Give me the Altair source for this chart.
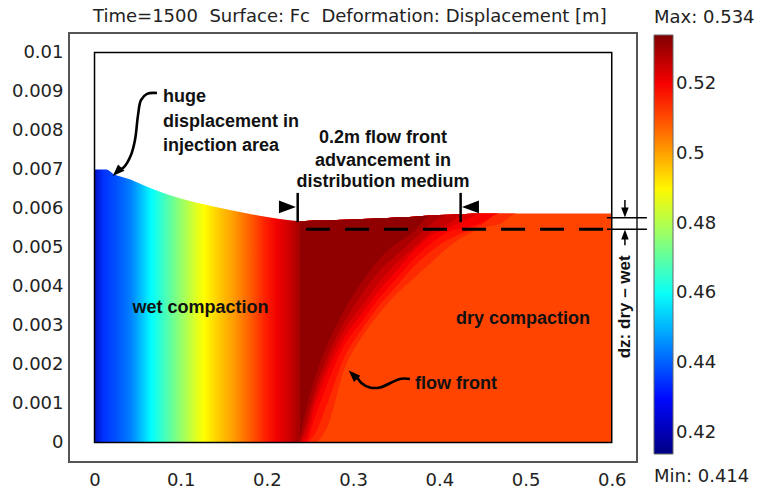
import altair as alt
import pandas as pd

# ---------------- axis / colour-bar data ----------------
X_TICKS = [0, 0.1, 0.2, 0.3, 0.4, 0.5, 0.6]
Y_TICKS = [0, 0.001, 0.002, 0.003, 0.004, 0.005, 0.006, 0.007, 0.008, 0.009, 0.01]
CBAR_TICKS = [0.42, 0.44, 0.46, 0.48, 0.5, 0.52]
V_MIN = 0.414
V_MAX = 0.534
JET = ["#000080", "#0000ff", "#0080ff", "#00ffff", "#80ff80",
       "#ffff00", "#ff8000", "#ff0000", "#800000"]

TITLE = "Time=1500\u00a0 Surface: Fc\u00a0 Deformation: Displacement [m]"
MAX_LABEL = "Max: 0.534"
MIN_LABEL = "Min: 0.414"

# ---------------- wet (left) region ----------------
LEFT_X = [0, 0.014, 0.021, 0.041, 0.061, 0.08, 0.099, 0.138, 0.176, 0.215, 0.238]
LEFT_TOP = [0.00700, 0.00700, 0.00690, 0.00675, 0.00656, 0.00640, 0.00626,
            0.00605, 0.00588, 0.00573, 0.00567]
LEFT_GRAD_X = [0, 0.01, 0.025, 0.042, 0.056, 0.066, 0.088, 0.103, 0.118, 0.127,
               0.145, 0.16, 0.18, 0.198, 0.212, 0.228, 0.238]
LEFT_GRAD_COLOR = ["#0010c0", "#0030ff", "#0050ff", "#0080ff", "#00c8ff", "#00ffff",
                   "#60ffa0", "#a0ff60", "#e0ff20", "#ffff00", "#ffc800", "#ffa000",
                   "#ff6000", "#ff2000", "#f00000", "#c80000", "#a00000"]

# ---------------- dry (right) region ----------------
RIGHT_X = [0.238, 0.245, 0.255, 0.27, 0.29, 0.31, 0.33, 0.35, 0.37, 0.39, 0.41,
           0.43, 0.45, 0.47, 0.49, 0.52, 0.55, 0.6]
RIGHT_TOP = [0.00567, 0.00568, 0.00569, 0.00570, 0.00571, 0.00573, 0.00575, 0.00577,
             0.00579, 0.00582, 0.00584, 0.00586, 0.00587, 0.00587, 0.00587, 0.00587,
             0.00587, 0.00587]
BASE_VALUE = 0.511
LEVEL_VALUES = [0.514, 0.517, 0.520, 0.523, 0.526, 0.529, 0.532]
# lower edge of each contour band (None = band does not reach this x)
N = None
LEVEL_LOW = [
    [0, 0, 0, 0.0004, 0.0019, 0.0027, 0.0033, 0.0038, 0.0042, 0.0046, 0.0050,
     0.0053, 0.0055, 0.0056, N, N, N, N],
    [0, 0, 0.0002, 0.0010, 0.0022, 0.0029, 0.0035, 0.0040, 0.0045, 0.0049, 0.0052,
     0.0054, 0.0056, N, N, N, N, N],
    [0, 0, 0.0006, 0.0015, 0.0025, 0.0031, 0.0037, 0.0042, 0.0047, 0.0051, 0.0054,
     0.0055, 0.00565, N, N, N, N, N],
    [0, 0.0001, 0.0009, 0.0018, 0.0027, 0.0033, 0.0039, 0.0044, 0.0049, 0.0053, 0.0055,
     0.0057, N, N, N, N, N, N],
    [0, 0.0003, 0.0011, 0.0020, 0.0029, 0.0035, 0.0041, 0.0046, 0.0050, 0.0054, 0.0056,
     N, N, N, N, N, N, N],
    [0, 0.0005, 0.0013, 0.0022, 0.0031, 0.0038, 0.0044, 0.0048, 0.0052, 0.0056, N,
     N, N, N, N, N, N, N],
    [0.0001, 0.0008, 0.0016, 0.0025, 0.0034, 0.0041, 0.0047, 0.0051, 0.0054, N, N,
     N, N, N, N, N, N, N],
]

FRAME_X = [0, 0.6]
FRAME_Y = [0, 0.01]

# ---------------- annotations ----------------
HUGE_LINES = ["huge", "displacement in", "injection area"]
HUGE_X = 0.0794
HUGE_Y = [0.00886, 0.00822, 0.0076]
FRONT_LINES = ["0.2m flow front", "advancement in", "distribution medium"]
FRONT_X = 0.3346
FRONT_Y = [0.00781, 0.00722, 0.00668]
REGION_LABELS = ["wet compaction", "dry compaction"]
REGION_X = [0.1229, 0.497]
REGION_Y = [0.00345, 0.00317]
FLOW_LABEL = "flow front"
FLOW_X = 0.3717
FLOW_Y = 0.0015
DZ_LABEL = "dz: dry \u2013 wet"
DZ_X = 0.6153
DZ_Y = 0.00348

HUGE_ARROW_X = [0.0725, 0.0609, 0.0539, 0.0505, 0.047, 0.0423, 0.0342, 0.0300]
HUGE_ARROW_Y = [0.00896, 0.00894, 0.00878, 0.0084, 0.00776, 0.00737, 0.00706, 0.00700]
FLOW_ARROW_X = [0.3659, 0.3543, 0.3311, 0.3195, 0.3099, 0.3041]
FLOW_ARROW_Y = [0.00163, 0.00163, 0.00141, 0.00141, 0.00152, 0.00169]

HEAD_X = [0.2238, 0.4361, 0.0261, 0.2998, 0.6153, 0.6153]
HEAD_Y = [0.00604, 0.00604, 0.00694, 0.00174, 0.0059, 0.005333]
HEAD_ANGLE = [90, 270, 225, 315, 180, 0]
HEAD_SIZE = [289, 289, 144, 144, 100, 100]

BAR_X = [0.2357, 0.4247]
BAR_Y1 = [0.0064, 0.0064]
BAR_Y2 = [0.00565, 0.00565]
DZ_LINE_Y = [0.005764, 0.005467]
DZ_LINE_X1 = 0.5944
DZ_LINE_X2 = 0.6408
DZ_STEM_Y1 = [0.00622, 0.005333]
DZ_STEM_Y2 = [0.0059, 0.00506]
DASH_X1 = 0.2454
DASH_X2 = 0.5956
DASH_Y = 0.005467

# ---------------- scales ----------------
xs = alt.Scale(domain=[-0.0296, 0.6293], nice=False, zero=False)
ys = alt.Scale(domain=[-0.0005, 0.0105], nice=False, zero=False)
cs = alt.Scale(domain=[V_MIN, V_MAX], range=JET, interpolate="rgb", nice=False)

AX_FONT = "DejaVu Sans"
ANN_FONT = "Liberation Sans"

x_axis = alt.Axis(values=X_TICKS, format="~g", title=None, ticks=False, domain=False,
                  grid=False, labelFont=AX_FONT, labelFontSize=18, labelColor="#222",
                  labelPadding=9)
y_axis = alt.Axis(values=Y_TICKS, format="~g", title=None, ticks=False, domain=False,
                  grid=False, labelFont=AX_FONT, labelFontSize=18, labelColor="#222",
                  labelPadding=6)
legend = alt.Legend(title=None, orient="none", legendX=585, legendY=2,
                    direction="vertical", gradientLength=419, gradientThickness=19,
                    values=CBAR_TICKS, format="~g", labelFont=AX_FONT, labelFontSize=18,
                    labelColor="#222", labelOffset=3, padding=0,
                    gradientStrokeColor="#666", gradientStrokeWidth=1,
                    labelOverlap=False)


def X(field):
    return alt.X(field, type="quantitative", scale=xs, axis=x_axis)


def Y(field):
    return alt.Y(field, type="quantitative", scale=ys, axis=y_axis)


# base of the dry region
base_df = pd.DataFrame({"x": RIGHT_X, "lo": [0.0] * len(RIGHT_X), "top": RIGHT_TOP,
                        "v": [BASE_VALUE] * len(RIGHT_X)})
layers = [
    alt.Chart(base_df).mark_area(interpolate="monotone").encode(
        x=X("x"), y=Y("lo"), y2="top:Q",
        color=alt.Color("v:Q", scale=cs, legend=legend))
]

# contour bands of the flow front
for val, lows in zip(LEVEL_VALUES, LEVEL_LOW):
    lo = [t if l is None else l for l, t in zip(lows, RIGHT_TOP)]
    df = pd.DataFrame({"x": RIGHT_X, "lo": lo, "top": RIGHT_TOP,
                       "v": [val] * len(RIGHT_X)})
    layers.append(
        alt.Chart(df).mark_area(interpolate="monotone").encode(
            x=X("x"), y=Y("lo"), y2="top:Q",
            color=alt.Color("v:Q", scale=cs, legend=legend)))

# wet region with horizontal colour gradient
left_df = pd.DataFrame({"x": LEFT_X, "top": LEFT_TOP, "lo": [0.0] * len(LEFT_X)})
grad = alt.Gradient(
    gradient="linear",
    stops=[alt.GradientStop(offset=gx / LEFT_X[-1], color=c)
           for gx, c in zip(LEFT_GRAD_X, LEFT_GRAD_COLOR)],
    x1=0, x2=1, y1=0, y2=0)
layers.append(
    alt.Chart(left_df).mark_area(interpolate="monotone", fill=grad).encode(
        x=X("x"), y=Y("top"), y2="lo:Q"))

# geometry frame
frame_df = pd.DataFrame({"x1": [FRAME_X[0]], "x2": [FRAME_X[1]],
                         "y1": [FRAME_Y[0]], "y2": [FRAME_Y[1]]})
layers.append(
    alt.Chart(frame_df).mark_rect(fillOpacity=0, stroke="black", strokeWidth=1.5).encode(
        x=X("x1"), x2="x2:Q", y=Y("y1"), y2="y2:Q"))

# dashed line
dash_df = pd.DataFrame({"x1": [DASH_X1], "x2": [DASH_X2], "y": [DASH_Y]})
layers.append(
    alt.Chart(dash_df).mark_rule(color="black", strokeWidth=3, strokeDash=[24, 15]).encode(
        x=X("x1"), x2="x2:Q", y=Y("y")))

# vertical bars of the 0.2m annotation
bar_df = pd.DataFrame({"x": BAR_X, "y1": BAR_Y1, "y2": BAR_Y2})
layers.append(
    alt.Chart(bar_df).mark_rule(color="black", strokeWidth=2.5).encode(
        x=X("x"), y=Y("y1"), y2="y2:Q"))

# dz lines and stems
dzl_df = pd.DataFrame({"y": DZ_LINE_Y, "x1": [DZ_LINE_X1] * 2, "x2": [DZ_LINE_X2] * 2})
layers.append(
    alt.Chart(dzl_df).mark_rule(color="black", strokeWidth=1.5).encode(
        x=X("x1"), x2="x2:Q", y=Y("y")))
dzs_df = pd.DataFrame({"x": [DZ_X] * 2, "y1": DZ_STEM_Y1, "y2": DZ_STEM_Y2})
layers.append(
    alt.Chart(dzs_df).mark_rule(color="black", strokeWidth=1.5).encode(
        x=X("x"), y=Y("y1"), y2="y2:Q"))

# curved arrows
for ax_, ay_ in [(HUGE_ARROW_X, HUGE_ARROW_Y), (FLOW_ARROW_X, FLOW_ARROW_Y)]:
    cdf = pd.DataFrame({"x": ax_, "y": ay_, "i": list(range(len(ax_)))})
    layers.append(
        alt.Chart(cdf).mark_line(color="black", strokeWidth=2.6,
                                 interpolate="catmull-rom").encode(
            x=X("x"), y=Y("y"), order="i:Q"))

# arrow heads
head_df = pd.DataFrame({"x": HEAD_X, "y": HEAD_Y, "a": HEAD_ANGLE, "s": HEAD_SIZE})
layers.append(
    alt.Chart(head_df).mark_point(shape="M0,-1L0.75,1L-0.75,1Z", filled=True,
                                  color="black", opacity=1, strokeWidth=0).encode(
        x=X("x"), y=Y("y"),
        angle=alt.Angle("a:Q", scale=None),
        size=alt.Size("s:Q", scale=None)))

# annotation texts
left_txt = pd.DataFrame({"x": [HUGE_X] * 3 + [FLOW_X],
                         "y": HUGE_Y + [FLOW_Y],
                         "t": HUGE_LINES + [FLOW_LABEL]})
layers.append(
    alt.Chart(left_txt).mark_text(align="left", baseline="middle", font=ANN_FONT,
                                  fontSize=18, fontWeight="bold", color="#111").encode(
        x=X("x"), y=Y("y"), text="t:N"))
center_txt = pd.DataFrame({"x": [FRONT_X] * 3 + REGION_X,
                           "y": FRONT_Y + REGION_Y,
                           "t": FRONT_LINES + REGION_LABELS})
layers.append(
    alt.Chart(center_txt).mark_text(align="center", baseline="middle", font=ANN_FONT,
                                    fontSize=18, fontWeight="bold", color="#111").encode(
        x=X("x"), y=Y("y"), text="t:N"))
dz_txt = pd.DataFrame({"x": [DZ_X], "y": [DZ_Y], "t": [DZ_LABEL]})
layers.append(
    alt.Chart(dz_txt).mark_text(align="center", baseline="middle", font=ANN_FONT,
                                fontSize=17, fontWeight="bold", color="#111",
                                angle=270).encode(
        x=X("x"), y=Y("y"), text="t:N"))

# title and colour-bar min / max
for txt, px, py in [(TITLE, 24, -16), (MAX_LABEL, 585, -15), (MIN_LABEL, 585, 444)]:
    layers.append(
        alt.Chart(pd.DataFrame({"t": [txt]})).mark_text(
            align="left", baseline="middle", font=AX_FONT, fontSize=18,
            color="#222").encode(x=alt.value(px), y=alt.value(py), text="t:N"))

chart = alt.layer(*layers).properties(
    width=568, height=429,
    autosize=alt.AutoSizeParams(type="none"),
    padding={"left": 69, "top": 33, "right": 124, "bottom": 30},
    background="white",
).configure_view(stroke="#555555", strokeWidth=2)

chart.save("out.html", embed_options={"renderer": "svg", "actions": False})
